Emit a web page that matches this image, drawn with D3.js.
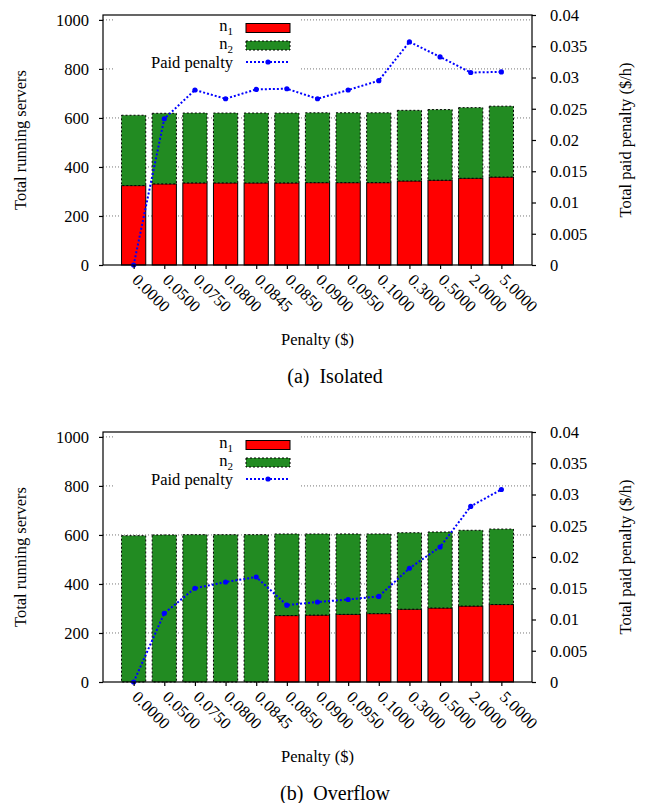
<!DOCTYPE html>
<html lang="en">
<head>
  <meta charset="UTF-8" />
  <title>Total running servers vs penalty</title>
  <script src="https://d3js.org/d3.v7.min.js"></script>
  <style>
    body {
      margin: 0;
      background: #fff;
    }
    svg {
      display: block;
    }
    svg text {
      font-family: "Liberation Serif", "Times New Roman", serif;
      fill: #000;
    }
  </style>
</head>
<body>
<script>
const categories = ["0.0000", "0.0500", "0.0750", "0.0800", "0.0845", "0.0850", "0.0900",
  "0.0950", "0.1000", "0.3000", "0.5000", "2.0000", "5.0000"];

// (a) Isolated
const isolatedN1 = [324, 331, 335, 335, 335, 335, 336, 336, 336, 343, 346, 354, 359];
const isolatedN2 = [287, 288, 285, 285, 285, 285, 285, 285, 285, 288, 288, 288, 289];
const isolatedPenalty = [0, 0.0234, 0.0280, 0.0266, 0.0281, 0.0282, 0.0266, 0.0280, 0.0295,
  0.0357, 0.0333, 0.0308, 0.0309];

// (b) Overflow
const overflowN1 = [0, 0, 0, 0, 0, 271, 273, 276, 279, 297, 302, 310, 316];
const overflowN2 = [597, 600, 601, 601, 601, 333, 331, 328, 325, 312, 310, 309, 308];
const overflowPenalty = [0, 0.0110, 0.0150, 0.0160, 0.0168, 0.0123, 0.0128, 0.0132, 0.0137,
  0.0182, 0.0216, 0.0281, 0.0308];

const leftTicks = [0, 200, 400, 600, 800, 1000];
const rightTicks = [0, 0.005, 0.01, 0.015, 0.02, 0.025, 0.03, 0.035, 0.04];

const width = 645, height = 803;
const fs = 16.5;

const svg = d3.select("body").append("svg")
  .attr("width", width)
  .attr("height", height);

function drawPanel(top, n1, n2, penalty, caption) {
  const left = 103, right = 532, bottom = top + 250;
  const g = svg.append("g");

  const x = d3.scaleLinear().domain([-1, categories.length]).range([left, right]);
  const y = d3.scaleLinear().domain([0, 1020]).range([bottom, top]);
  const y2 = d3.scaleLinear().domain([0, 0.04]).range([bottom, top]);
  const bw = (x(1) - x(0)) * 0.79;

  // grid
  g.append("g").selectAll("line")
    .data(leftTicks.filter(d => d > 0))
    .join("line")
    .attr("x1", left).attr("x2", right)
    .attr("y1", d => y(d)).attr("y2", d => y(d))
    .attr("stroke", "#777")
    .attr("stroke-width", 1)
    .attr("stroke-dasharray", "1,2");

  // opaque key background
  g.append("rect")
    .attr("x", left + 10).attr("y", top + 1)
    .attr("width", 187).attr("height", 60)
    .attr("fill", "#fff");

  // bars
  const bars = g.append("g");
  bars.selectAll("rect.n1")
    .data(n1)
    .join("rect")
    .attr("class", "n1")
    .attr("x", (d, i) => x(i) - bw / 2)
    .attr("width", bw)
    .attr("y", d => y(d))
    .attr("height", d => y(0) - y(d))
    .attr("fill", "#ff0000")
    .attr("stroke", d => d > 0 ? "#000" : "none")
    .attr("stroke-width", 1);

  bars.selectAll("rect.n2")
    .data(n2)
    .join("rect")
    .attr("class", "n2")
    .attr("x", (d, i) => x(i) - bw / 2)
    .attr("width", bw)
    .attr("y", (d, i) => y(d + n1[i]))
    .attr("height", (d, i) => y(n1[i]) - y(d + n1[i]))
    .attr("fill", "#228b22")
    .attr("stroke", "#000")
    .attr("stroke-width", 1)
    .attr("stroke-dasharray", "2,2");

  // penalty line
  const line = d3.line()
    .x((d, i) => x(i))
    .y(d => y2(d));

  g.append("path")
    .datum(penalty)
    .attr("d", line)
    .attr("fill", "none")
    .attr("stroke", "#0000ff")
    .attr("stroke-width", 2)
    .attr("stroke-dasharray", "2,2");

  g.append("g").selectAll("circle")
    .data(penalty)
    .join("circle")
    .attr("cx", (d, i) => x(i))
    .attr("cy", d => y2(d))
    .attr("r", 2.6)
    .attr("fill", "#0000ff");

  // frame
  g.append("rect")
    .attr("x", left).attr("y", top)
    .attr("width", right - left).attr("height", bottom - top)
    .attr("fill", "none")
    .attr("stroke", "#000")
    .attr("stroke-width", 1.2);

  // left axis
  const la = g.append("g")
    .attr("transform", `translate(${left},0)`)
    .call(d3.axisLeft(y).tickValues(leftTicks).tickSize(4).tickPadding(10).tickFormat(d3.format("d")));
  la.select(".domain").remove();

  // right axis
  const ra = g.append("g")
    .attr("transform", `translate(${right},0)`)
    .call(d3.axisRight(y2).tickValues(rightTicks).tickSize(4).tickPadding(14).tickFormat(d => d === 0 ? "0" : String(+d.toFixed(3))));
  ra.select(".domain").remove();

  // bottom axis
  const ba = g.append("g")
    .attr("transform", `translate(0,${bottom})`)
    .call(d3.axisBottom(x).tickValues(d3.range(categories.length)).tickSize(4).tickFormat(i => categories[i]));
  ba.select(".domain").remove();
  ba.selectAll("text")
    .attr("text-anchor", "start")
    .attr("dy", null)
    .attr("y", 0)
    .attr("transform", "translate(-3,16) rotate(45)");

  g.selectAll(".tick line").attr("stroke", "#000").attr("stroke-width", 1.2);
  g.selectAll(".tick text").attr("font-size", fs);

  // axis titles
  g.append("text")
    .attr("transform", `translate(26,${(top + bottom) / 2}) rotate(-90)`)
    .attr("text-anchor", "middle")
    .attr("font-size", fs)
    .text("Total running servers");

  g.append("text")
    .attr("transform", `translate(631,${(top + bottom) / 2}) rotate(-90)`)
    .attr("text-anchor", "middle")
    .attr("font-size", fs)
    .text("Total paid penalty ($/h)");

  g.append("text")
    .attr("x", (left + right) / 2)
    .attr("y", bottom + 80)
    .attr("text-anchor", "middle")
    .attr("font-size", fs)
    .text("Penalty ($)");

  g.append("text")
    .attr("x", 335)
    .attr("y", bottom + 118)
    .attr("text-anchor", "middle")
    .attr("font-size", 20)
    .attr("xml:space", "preserve")
    .text(caption);

  // legend
  const key = g.append("g");
  const kx = 233, sx = 246, sw = 44;
  const rows = [top + 13, top + 30.5, top + 47];

  [["1", "#ff0000", null], ["2", "#228b22", "2,2"]].forEach(([sub, color, dash], k) => {
    const t = key.append("text")
      .attr("x", kx).attr("y", rows[k] + 3)
      .attr("text-anchor", "end")
      .attr("font-size", fs);
    t.append("tspan").text("n");
    t.append("tspan").attr("font-size", 11).attr("dy", 4).text(sub);
    key.append("rect")
      .attr("x", sx).attr("y", rows[k] - 4.5)
      .attr("width", sw).attr("height", 9)
      .attr("fill", color)
      .attr("stroke", "#000")
      .attr("stroke-dasharray", dash);
  });

  key.append("text")
    .attr("x", kx).attr("y", rows[2] + 6)
    .attr("text-anchor", "end")
    .attr("font-size", fs)
    .text("Paid penalty");
  key.append("line")
    .attr("x1", sx).attr("x2", sx + sw)
    .attr("y1", rows[2]).attr("y2", rows[2])
    .attr("stroke", "#0000ff")
    .attr("stroke-width", 2)
    .attr("stroke-dasharray", "2,2");
  key.append("circle")
    .attr("cx", sx + sw / 2).attr("cy", rows[2])
    .attr("r", 2.6)
    .attr("fill", "#0000ff");
}

drawPanel(15, isolatedN1, isolatedN2, isolatedPenalty, "(a)  Isolated");
drawPanel(432, overflowN1, overflowN2, overflowPenalty, "(b)  Overflow");
</script>
</body>
</html>
